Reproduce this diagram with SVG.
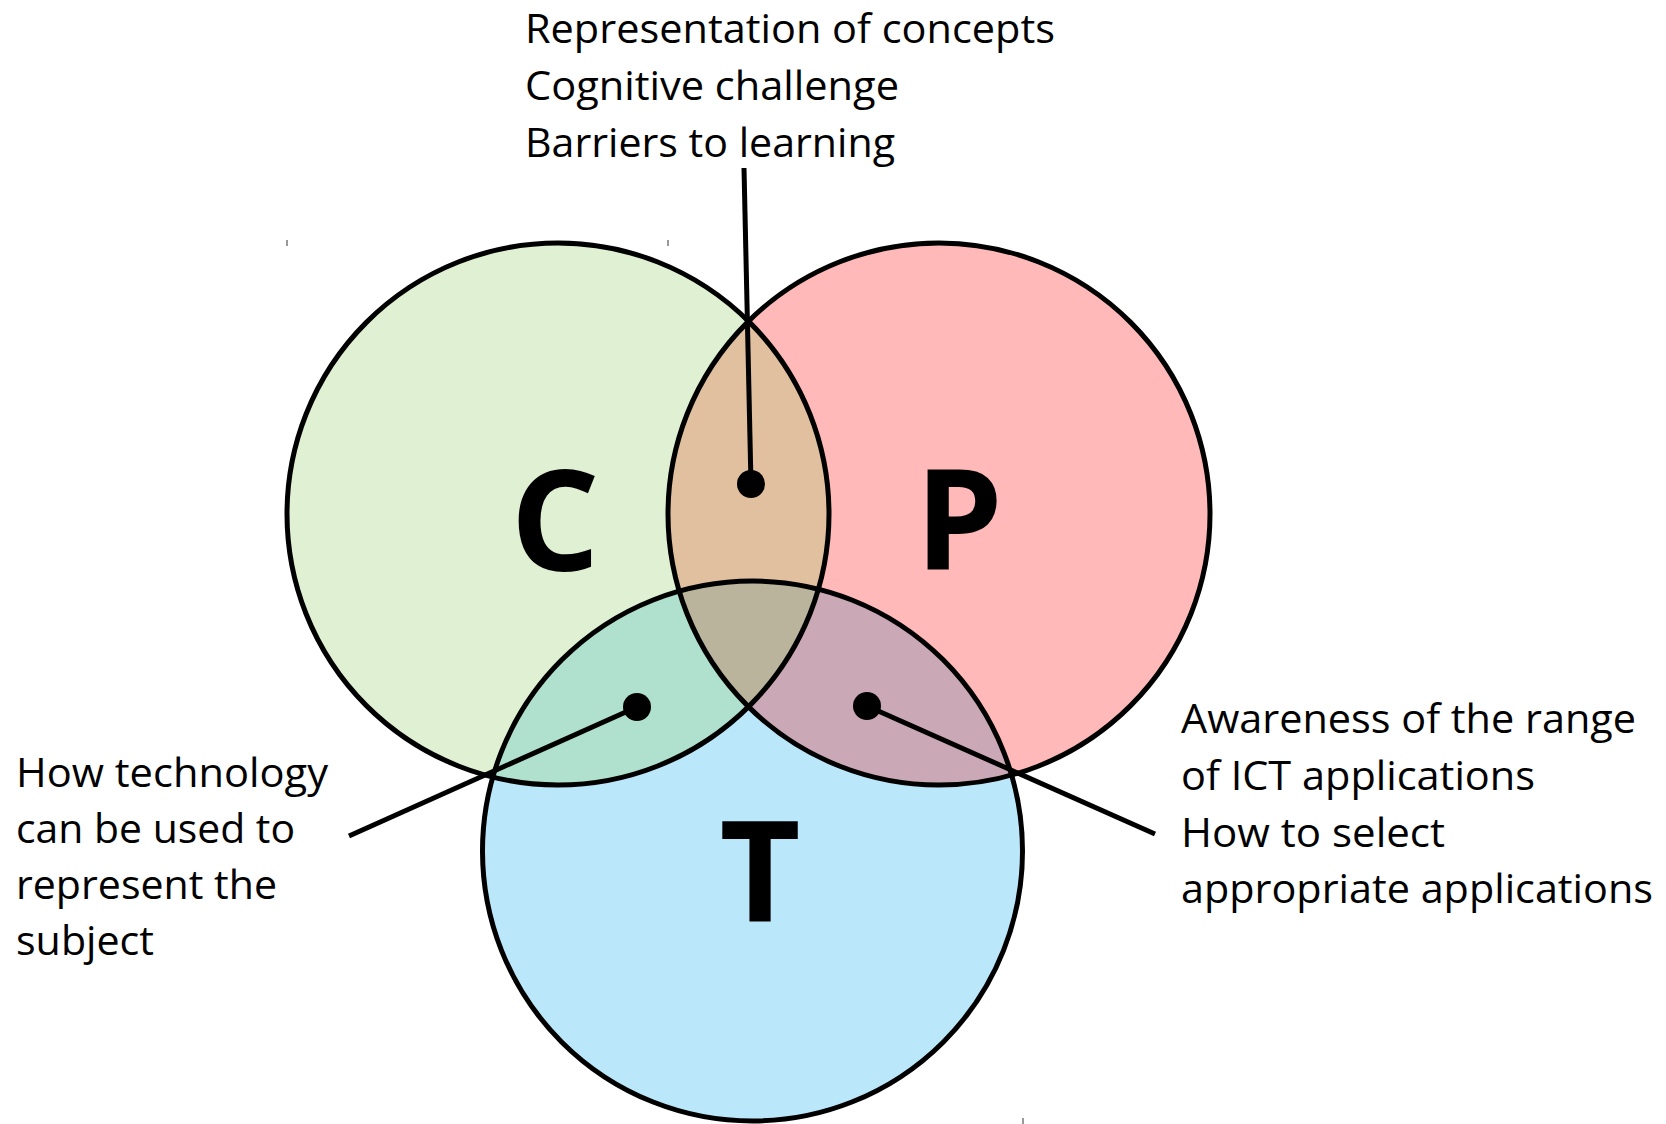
<svg xmlns="http://www.w3.org/2000/svg" width="1666" height="1124" viewBox="0 0 1666 1124">
<style>
.ring{fill:none;stroke:#000;stroke-width:5}
.big{font-family:"Open Sans","Liberation Sans",sans-serif;font-weight:700;font-size:140px;fill:#000;text-anchor:middle}
.lbl{font-family:"Open Sans","Noto Sans","Liberation Sans",sans-serif;font-size:41px;fill:#000}
.conn{stroke:#000;stroke-width:5;fill:none;stroke-linecap:butt}
.tick{stroke:#777;stroke-width:1.5}
</style>
<defs>
<clipPath id="clipC"><circle cx="558" cy="514" r="271"/></clipPath>
<clipPath id="clipP"><circle cx="939" cy="514" r="271"/></clipPath>
<clipPath id="clipT"><circle cx="752.5" cy="851" r="270"/></clipPath>
</defs>
<rect width="1666" height="1124" fill="#fff"/>
<g id="ticks">
<line class="tick" x1="287" y1="240" x2="287" y2="246"/>
<line class="tick" x1="668" y1="240" x2="668" y2="246"/>
<line class="tick" x1="482" y1="579" x2="482" y2="585"/>
<line class="tick" x1="828" y1="780" x2="828" y2="786"/>
<line class="tick" x1="1023" y1="1118" x2="1023" y2="1124"/>
</g>
<g id="node-C"><circle cx="558" cy="514" r="271" fill="#DFF0D3"/></g>
<g id="node-P"><circle cx="939" cy="514" r="271" fill="#FFB9B9"/></g>
<g id="node-T"><circle cx="752.5" cy="851" r="270" fill="#BAE7F9"/></g>
<g id="overlap-CP" clip-path="url(#clipC)"><circle cx="939" cy="514" r="271" fill="#E0C09E"/></g>
<g id="overlap-CT" clip-path="url(#clipC)"><circle cx="752.5" cy="851" r="270" fill="#B0E1CE"/></g>
<g id="overlap-PT" clip-path="url(#clipP)"><circle cx="752.5" cy="851" r="270" fill="#CBA8B6"/></g>
<g id="overlap-CPT" clip-path="url(#clipC)"><g clip-path="url(#clipP)"><circle cx="752.5" cy="851" r="270" fill="#BBB49C"/></g></g>
<g id="outlines">
<circle class="ring" cx="558" cy="514" r="271"/>
<circle class="ring" cx="939" cy="514" r="271"/>
<circle class="ring" cx="752.5" cy="851" r="270"/>
</g>
<g id="letters">
<text class="big" x="555" y="571">C</text>
<text class="big" x="959" y="570">P</text>
<text class="big" x="760" y="921">T</text>
</g>
<g id="connectors">
<line class="conn" x1="744" y1="168" x2="751" y2="484"/>
<circle cx="751" cy="484" r="14"/>
<line class="conn" x1="637" y1="707" x2="349" y2="836"/>
<circle cx="637" cy="707" r="14"/>
<line class="conn" x1="867" y1="706" x2="1155" y2="834"/>
<circle cx="867" cy="706" r="14"/>
</g>
<g id="label-CP">
<text class="lbl" x="525" y="43" textLength="530" lengthAdjust="spacingAndGlyphs">Representation of concepts</text>
<text class="lbl" x="525" y="100" textLength="374" lengthAdjust="spacingAndGlyphs">Cognitive challenge</text>
<text class="lbl" x="525" y="157" textLength="370" lengthAdjust="spacingAndGlyphs">Barriers to learning</text>
</g>
<g id="label-CT">
<text class="lbl" x="16" y="787" textLength="312" lengthAdjust="spacingAndGlyphs">How technology</text>
<text class="lbl" x="16" y="843" textLength="279" lengthAdjust="spacingAndGlyphs">can be used to</text>
<text class="lbl" x="16" y="899" textLength="261" lengthAdjust="spacingAndGlyphs">represent the</text>
<text class="lbl" x="16" y="955" textLength="138" lengthAdjust="spacingAndGlyphs">subject</text>
</g>
<g id="label-PT">
<text class="lbl" x="1181" y="733" textLength="455" lengthAdjust="spacingAndGlyphs">Awareness of the range</text>
<text class="lbl" x="1181" y="790" textLength="354" lengthAdjust="spacingAndGlyphs">of ICT applications</text>
<text class="lbl" x="1181" y="847" textLength="264" lengthAdjust="spacingAndGlyphs">How to select</text>
<text class="lbl" x="1181" y="903" textLength="472" lengthAdjust="spacingAndGlyphs">appropriate applications</text>
</g>
</svg>
